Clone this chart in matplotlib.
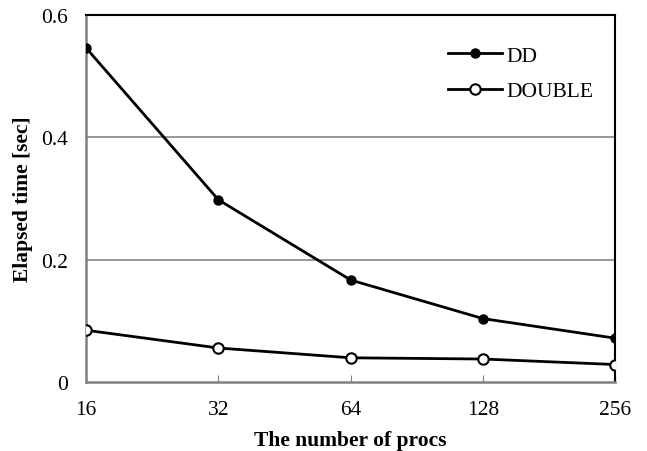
import numpy as np
import matplotlib.pyplot as plt

procs = ['16', '32', '64', '128', '256']
dd = [0.546, 0.298, 0.167, 0.104, 0.072]
double = [0.085, 0.056, 0.040, 0.038, 0.029]

plt.rcParams['font.family'] = 'Liberation Serif'

fig = plt.figure(figsize=(6.47, 4.52), dpi=100)
ax = fig.add_axes([0.133, 0.152, 0.818, 0.813])

x = np.arange(len(procs))
ax.plot(x, dd, color='black', lw=2, marker='o', ms=6.5,
        mfc='black', mec='black', label='DD', zorder=3)
ax.plot(x, double, color='black', lw=2, marker='o', ms=7.5,
        mfc='white', mec='black', mew=1.5, label='DOUBLE', zorder=3)

ax.set_xlim(0, len(procs) - 1)
ax.set_ylim(0, 0.6)
ax.set_xticks(x)
ax.set_xticklabels(procs)
ax.set_yticks([0, 0.2, 0.4, 0.6])
ax.set_yticklabels(['0', '0.2', '0.4', '0.6'])
ax.tick_params(axis='both', labelsize=15.5, color='#808080')
ax.tick_params(axis='x', direction='in', length=5, pad=13)
ax.tick_params(axis='y', length=0, pad=13)

for y in [0.2, 0.4]:
    ax.axhline(y, color='#909090', lw=1.3, zorder=1)

ax.spines['left'].set_color('#808080')
ax.spines['bottom'].set_color('#808080')
ax.spines['left'].set_linewidth(1.8)
ax.spines['bottom'].set_linewidth(1.8)
ax.spines['top'].set_color('black')
ax.spines['right'].set_color('black')
ax.spines['top'].set_linewidth(1.5)
ax.spines['right'].set_linewidth(1.5)

ax.set_xlabel('The number of procs', fontsize=15.5, fontweight='bold', labelpad=7.5)
ax.set_ylabel('Elapsed time [sec]', fontsize=15.5, fontweight='bold', labelpad=6)

ax.legend(loc='upper left', bbox_to_anchor=(0.676, 0.921), bbox_transform=fig.transFigure,
          frameon=False, fontsize=15.5, handlelength=2.5, handletextpad=0.2,
          labelspacing=0.72, borderpad=0)

fig.savefig('out.png', dpi=100)
